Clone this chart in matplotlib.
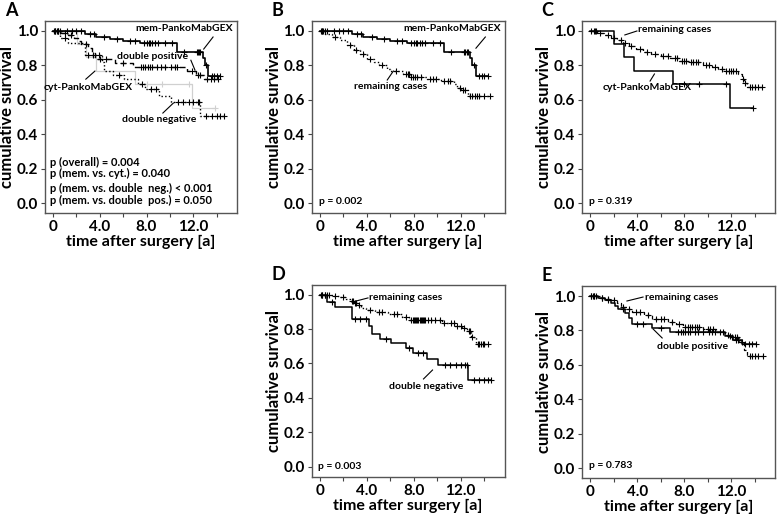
import numpy as np
import matplotlib
matplotlib.use("Agg")
import matplotlib.pyplot as plt

plt.rcParams['font.family'] = ['Lato', 'DejaVu Sans']
plt.rcParams['font.weight'] = 'bold'
plt.rcParams['axes.labelweight'] = 'bold'

# ---- data ----
# mem-PankoMabGEX
mem_t = [2.7, 3.7, 4.9, 6.0, 7.4, 10.6, 12.8, 13.0, 13.3]
mem_s = [0.98, 0.965, 0.952, 0.94, 0.93, 0.88, 0.845, 0.805, 0.74]
mem_c = [0.2, 0.4, 0.6, 1.2, 1.6, 2.0, 2.4, 3.2, 3.5, 4.4, 5.5, 6.6, 7.0, 7.8, 8.0,
         8.2, 8.3, 8.5, 8.7, 9.0, 9.6, 10.2, 11.2, 12.3, 12.4, 12.5, 12.6, 13.1,
         13.6, 13.8, 14.0, 14.3]

# cyt-PankoMabGEX
cyt_t = [2.05, 2.85, 3.7, 7.05, 11.9]
cyt_s = [0.923, 0.846, 0.769, 0.692, 0.554]
cyt_c = [0.4, 8.0, 9.3, 11.6, 13.9]

# double negative
dn_t = [0.6, 1.3, 2.7, 4.2, 4.4, 5.1, 6.1, 7.3, 7.9, 9.1, 10.1, 12.6]
dn_s = [0.96, 0.93, 0.86, 0.82, 0.77, 0.745, 0.72, 0.69, 0.66, 0.625, 0.59, 0.505]
dn_c = [0.2, 0.4, 1.0, 3.0, 3.4, 3.9, 5.6, 7.6, 8.4, 8.8, 10.7, 11.1, 11.6, 12.0,
        12.4, 12.5, 13.1, 13.6, 14.0, 14.3, 14.6]

# double positive
dp_t = [0.7, 1.3, 1.8, 2.1, 2.4, 3.0, 3.3, 3.6, 5.3, 6.8, 11.5, 12.2, 12.9]
dp_s = [0.99, 0.977, 0.962, 0.94, 0.925, 0.90, 0.87, 0.84, 0.815, 0.79, 0.765, 0.745, 0.72]
dp_c = [0.1, 0.3, 1.0, 1.5, 2.8, 4.0, 4.5, 6.0, 7.5, 7.7, 7.9, 8.1, 8.3, 8.5, 8.9,
        9.2, 9.6, 10.1, 10.4, 10.6, 11.9, 12.4, 12.6, 13.2, 13.5, 13.8, 14.1]

# remaining cases (B: vs mem)
remB_t = [0.4, 1.0, 1.7, 2.3, 2.9, 3.4, 4.0, 4.6, 5.0, 5.7, 6.0, 7.1, 7.7, 9.1, 10.3,
          11.4, 11.7, 12.0, 12.6]
remB_s = [0.985, 0.965, 0.945, 0.917, 0.89, 0.865, 0.84, 0.82, 0.80, 0.78, 0.77, 0.75,
          0.735, 0.72, 0.71, 0.69, 0.67, 0.655, 0.62]
remB_c = [0.1, 0.2, 0.3, 1.3, 2.6, 3.1, 3.7, 4.3, 5.3, 6.5, 7.3, 7.5, 7.6, 7.8, 7.9,
          8.1, 8.3, 8.6, 9.4, 9.6, 9.9, 10.6, 10.9, 11.1, 11.9, 12.2, 12.4, 12.8, 13.0,
          13.2, 13.4, 13.6, 14.0, 14.5]

# remaining cases (C: vs cyt)
remC_t = [0.6, 1.2, 1.8, 2.3, 2.8, 3.3, 3.9, 4.5, 5.2, 6.0, 6.8, 7.6, 8.4, 9.6, 10.4,
          10.9, 11.5, 12.6, 12.9, 13.1, 13.4]
remC_s = [0.99, 0.978, 0.962, 0.948, 0.932, 0.912, 0.895, 0.878, 0.865, 0.853, 0.843,
          0.828, 0.818, 0.805, 0.792, 0.78, 0.77, 0.75, 0.72, 0.70, 0.672]
remC_c = [0.1, 0.3, 0.5, 0.8, 1.5, 2.0, 2.6, 3.0, 3.5, 4.2, 4.8, 5.5, 6.2, 6.6, 7.2,
          7.4, 7.8, 8.0, 8.2, 8.6, 8.8, 9.0, 9.2, 9.9, 10.1, 10.6, 11.2, 11.6, 11.8,
          12.0, 12.2, 12.4, 13.0, 13.2, 13.6, 13.8, 14.0, 14.3, 14.6]

# remaining cases (D: vs double negative)
remD_t = [1.0, 1.6, 2.2, 2.6, 2.9, 3.2, 3.5, 3.9, 4.7, 5.8, 7.0, 7.6, 10.4, 11.5, 12.1,
          12.5, 12.9, 13.3]
remD_s = [0.993, 0.985, 0.977, 0.965, 0.95, 0.938, 0.925, 0.91, 0.90, 0.885, 0.87,
          0.851, 0.835, 0.82, 0.805, 0.79, 0.755, 0.715]
remD_c = [0.1, 0.2, 0.4, 0.6, 0.8, 1.3, 2.0, 2.7, 2.8, 3.0, 3.1, 3.3, 4.3, 5.0, 5.3,
          6.3, 6.6, 7.3, 7.8, 7.9, 8.0, 8.1, 8.2, 8.3, 8.4, 8.5, 8.6, 8.7, 8.8, 8.9,
          9.0, 9.2, 9.5, 9.8, 10.2, 10.6, 11.2, 11.4, 11.7, 12.0, 12.3, 12.7, 12.8,
          13.0, 13.5, 13.6, 13.7, 13.9, 14.0, 14.3]

# remaining cases (E: vs double positive)
remE_t = [0.8, 1.3, 1.7, 2.3, 2.6, 3.1, 3.6, 4.6, 5.3, 6.6, 7.3, 7.9, 9.6, 10.7, 11.5,
          11.9, 12.7, 13.1, 13.4]
remE_s = [0.99, 0.983, 0.975, 0.957, 0.938, 0.925, 0.908, 0.888, 0.869, 0.85, 0.835,
          0.82, 0.81, 0.79, 0.775, 0.763, 0.734, 0.685, 0.65]
remE_c = [0.1, 0.2, 0.3, 0.5, 1.0, 1.5, 2.0, 2.8, 3.3, 3.9, 4.2, 4.9, 5.6, 6.0, 6.3,
          7.0, 7.6, 8.1, 8.3, 8.5, 8.7, 8.9, 9.1, 9.3, 10.0, 10.2, 10.5, 11.1, 11.3,
          11.7, 12.1, 12.3, 12.5, 12.9, 13.6, 13.8, 14.0, 14.3, 14.7]

p_texts_A = ["p (overall) = 0.004", "p (mem. vs. cyt.) = 0.040",
             "p (mem. vs. double  neg.) < 0.001", "p (mem. vs. double  pos.) = 0.050"]
x_ticks = [0, 2, 4, 6, 8, 10, 12, 14]
x_ticklabels = ["0", "", "4.0", "", "8.0", "", "12.0", ""]
y_ticks = [0.0, 0.2, 0.4, 0.6, 0.8, 1.0]


def km(ax, t, s, c, color='black', ls='-', lw=1.0):
    tt = np.r_[0.0, t, max(c)]
    ss = np.r_[1.0, s, s[-1]]
    ax.step(tt, ss, where='post', color=color, ls=ls, lw=lw)
    c = np.asarray(c)
    idx = np.searchsorted(np.asarray(t), c, side='right')
    sc = np.r_[1.0, s][idx]
    ax.plot(c, sc, '+', color=color, ms=4, mew=0.8, ls='none')


def setup(ax, letter):
    ax.set_xlim(-0.7, 15.75)
    ax.set_ylim(-0.058, 1.058)
    ax.set_xticks(x_ticks)
    ax.set_xticklabels(x_ticklabels)
    ax.set_yticks(y_ticks)
    ax.set_yticklabels([f"{v:.1f}" for v in y_ticks])
    ax.tick_params(labelsize=11, length=3, width=0.8, color='#444444', pad=2)
    ax.set_xlabel("time after surgery [a]", fontsize=11.5, labelpad=1)
    ax.set_ylabel("cumulative survival", fontsize=12, labelpad=1)
    for sp in ax.spines.values():
        sp.set_color('#555555')
        sp.set_linewidth(1.0)
    ax.text(-0.21, 1.055, letter, transform=ax.transAxes, fontsize=13,
            fontweight='bold', va='center', ha='left')


def label(ax, txt, pos, a, b, ha='center', fs=7.5):
    ax.text(pos[0], pos[1], txt, ha=ha, va='center', fontsize=fs)
    ax.plot([a[0], b[0]], [a[1], b[1]], color='black', lw=0.8)


fig = plt.figure(figsize=(7.78, 5.15), dpi=100)
axA = fig.add_axes([0.0578, 0.5864, 0.2468, 0.3728])
axB = fig.add_axes([0.4006, 0.5864, 0.2481, 0.3728])
axC = fig.add_axes([0.7481, 0.5864, 0.2481, 0.3728])
axD = fig.add_axes([0.4006, 0.0744, 0.2481, 0.3728])
axE = fig.add_axes([0.7481, 0.0718, 0.2481, 0.3728])

# A
km(axA, cyt_t, cyt_s, cyt_c, color='#d0d0d0', lw=0.9)
km(axA, dn_t, dn_s, dn_c, ls=':', lw=1.0)
km(axA, dp_t, dp_s, dp_c, ls=(0, (4, 2.5)), lw=1.0)
km(axA, mem_t, mem_s, mem_c, lw=1.2)
setup(axA, "A")
label(axA, "mem-PankoMabGEX", (11.2, 1.017), (13.7, 0.965), (12.9, 0.895))
label(axA, "double positive", (8.5, 0.849), (11.8, 0.83), (12.15, 0.773))
label(axA, "cyt-PankoMabGEX", (3.0, 0.669), (2.8, 0.72), (3.58, 0.767))
label(axA, "double negative", (9.1, 0.488), (9.4, 0.523), (10.3, 0.581))
for txt, yy in zip(p_texts_A, [0.238, 0.169, 0.087, 0.012]):
    axA.text(-0.27, yy, txt, fontsize=8, va='center', ha='left')

# B
km(axB, remB_t, remB_s, remB_c, ls=':', lw=1.0)
km(axB, mem_t, mem_s, mem_c, lw=1.2)
setup(axB, "B")
label(axB, "mem-PankoMabGEX", (11.3, 1.012), (14.1, 0.965), (13.3, 0.90))
label(axB, "remaining cases", (6.0, 0.68), (5.74, 0.715), (6.26, 0.767))
axB.text(-0.09, 0.006, "p = 0.002", fontsize=7.5, va='center', ha='left')

# C
km(axC, remC_t, remC_s, remC_c, ls=(0, (3, 2)), lw=0.9)
km(axC, cyt_t, cyt_s, cyt_c, lw=1.1)
setup(axC, "C")
label(axC, "remaining cases", (4.07, 1.006), (3.98, 1.0), (2.95, 0.977), ha='left')
label(axC, "cyt-PankoMabGEX", (4.85, 0.669), (5.1, 0.709), (5.47, 0.75))
axC.text(-0.1, 0.006, "p = 0.319", fontsize=7.5, va='center', ha='left')

# D
km(axD, remD_t, remD_s, remD_c, ls=':', lw=1.0)
km(axD, dn_t, dn_s, dn_c, lw=1.1)
setup(axD, "D")
label(axD, "remaining cases", (4.2, 0.981), (4.1, 0.981), (2.74, 0.957), ha='left')
label(axD, "double negative", (9.08, 0.469), (8.83, 0.51), (9.6, 0.562))
axD.text(-0.17, 0.004, "p = 0.003", fontsize=7.5, va='center', ha='left')

# E
km(axE, remE_t, remE_s, remE_c, ls=(0, (3, 2)), lw=0.9)
km(axE, dp_t, dp_s, dp_c, lw=1.1)
setup(axE, "E")
label(axE, "remaining cases", (4.67, 0.994), (4.5, 0.994), (3.13, 0.971), ha='left')
label(axE, "double positive", (8.7, 0.709), (6.13, 0.756), (5.36, 0.808))
axE.text(-0.1, 0.017, "p = 0.783", fontsize=7.5, va='center', ha='left')

fig.savefig("out.png", dpi=100)
